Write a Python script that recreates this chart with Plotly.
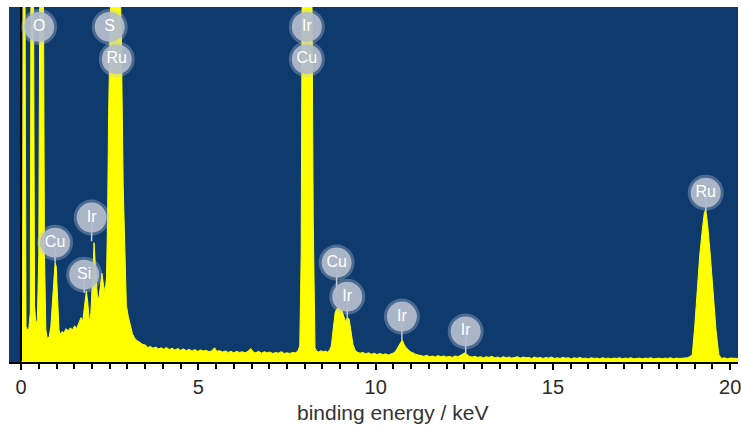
import plotly.graph_objects as go

# ---- spectrum (energy in keV, relative counts; values >100 are clipped peaks)
energy = [0.00, 0.04, 0.06, 0.11, 0.14, 0.18, 0.22, 0.26, 0.28, 0.35, 0.38, 0.42, 0.46, 0.50, 0.53, 0.63,
          0.66, 0.70, 0.74, 0.79, 0.84, 0.89, 0.93, 0.96, 0.99, 1.03, 1.07, 1.11, 1.16, 1.21, 1.27, 1.33,
          1.39, 1.45, 1.51, 1.57, 1.63, 1.69, 1.74, 1.79, 1.84, 1.88, 1.93, 1.97, 2.02, 2.06, 2.10, 2.15,
          2.19, 2.24, 2.28, 2.32, 2.37, 2.41, 2.44, 2.47, 2.51, 2.54, 2.79, 2.83, 2.88, 2.93, 2.97, 3.02,
          3.08, 3.14, 3.20, 3.27, 3.34, 3.42, 3.50, 3.58, 3.65, 3.72, 3.80, 3.88, 3.95, 4.03, 4.10, 4.18,
          4.26, 4.34, 4.42, 4.50, 4.58, 4.66, 4.74, 4.82, 4.90, 4.98, 5.06, 5.14, 5.22, 5.30, 5.38, 5.46,
          5.52, 5.60, 5.68, 5.76, 5.84, 5.92, 6.00, 6.08, 6.16, 6.24, 6.32, 6.40, 6.48, 6.55, 6.62, 6.70,
          6.78, 6.86, 6.94, 7.02, 7.10, 7.18, 7.26, 7.34, 7.42, 7.50, 7.58, 7.66, 7.74, 7.80, 7.86, 7.90,
          7.93, 8.20, 8.24, 8.29, 8.34, 8.40, 8.46, 8.52, 8.58, 8.64, 8.70, 8.75, 8.80, 8.86, 8.92, 8.98,
          9.04, 9.10, 9.15, 9.20, 9.25, 9.30, 9.36, 9.42, 9.48, 9.56, 9.64, 9.72, 9.80, 9.88, 9.96, 10.04,
          10.12, 10.20, 10.28, 10.36, 10.44, 10.52, 10.58, 10.64, 10.70, 10.75, 10.80, 10.86, 10.92, 10.98,
          11.05, 11.12, 11.20, 11.28, 11.36, 11.44, 11.52, 11.60, 11.68, 11.76, 11.84, 11.92, 12.00, 12.08,
          12.16, 12.24, 12.32, 12.40, 12.46, 12.52, 12.58, 12.64, 12.72, 12.80, 12.88, 12.96, 13.04, 13.12,
          13.20, 13.28, 13.36, 13.44, 13.52, 13.60, 13.68, 13.76, 13.84, 13.92, 14.00, 14.08, 14.16, 14.24,
          14.32, 14.40, 14.48, 14.56, 14.64, 14.72, 14.80, 14.88, 14.96, 15.04, 15.12, 15.20, 15.28, 15.36,
          15.44, 15.52, 15.60, 15.68, 15.76, 15.84, 15.92, 16.00, 16.08, 16.16, 16.24, 16.32, 16.40, 16.48,
          16.56, 16.64, 16.72, 16.80, 16.88, 16.96, 17.04, 17.12, 17.20, 17.28, 17.36, 17.44, 17.52, 17.60,
          17.68, 17.76, 17.84, 17.92, 18.00, 18.08, 18.16, 18.24, 18.32, 18.40, 18.48, 18.56, 18.64, 18.72,
          18.80, 18.87, 18.93, 19.00, 19.07, 19.14, 19.21, 19.27, 19.31, 19.36, 19.44, 19.52, 19.60, 19.68,
          19.76, 19.84, 19.92, 20.00, 20.08, 20.16, 20.24]
counts = [0, 0, 110, 110, 10, 9, 9.5, 14, 110, 110, 16, 10.5, 12, 30, 110, 110,
          30, 9, 6.7, 7, 10, 18, 26, 28, 27, 18, 9, 7.8, 8.6, 8.2, 9.4, 8.8,
          9.6, 9.1, 10.2, 9.5, 11, 12.5, 11.5, 15, 20, 17, 11, 14, 27, 33.6, 26, 19,
          17.5, 22, 25, 22, 19.5, 24, 40, 70, 95, 110, 110, 90, 50, 30, 16, 13,
          10, 8, 6.8, 6, 5.6, 5, 4.8, 4.1, 4.4, 3.9, 4.2, 3.7, 4.0, 3.6, 4.1, 3.5,
          3.9, 3.4, 3.8, 3.3, 3.7, 3.2, 3.6, 3.1, 3.5, 3.0, 3.4, 3.1, 3.3, 2.9, 3.2, 4.0,
          3.0, 3.2, 2.8, 3.1, 2.7, 3.0, 2.6, 3.0, 2.7, 2.9, 2.6, 3.0, 3.8, 2.8, 2.6, 3.0,
          2.5, 2.9, 2.6, 2.8, 2.4, 2.7, 2.5, 2.9, 2.4, 2.6, 2.4, 2.7, 2.6, 3.0, 4.5, 30,
          110, 110, 40, 4, 3.0, 2.8, 3.2, 2.9, 3.1, 2.8, 3.3, 4.5, 9, 14, 15.2, 15.5,
          14.8, 13, 11.4, 12.4, 12.2, 9, 5, 3.4, 2.8, 2.5, 2.7, 2.3, 2.6, 2.2, 2.5, 2.1,
          2.4, 2.1, 2.3, 2.0, 2.4, 2.6, 3.3, 4.3, 5.5, 6.2, 5.0, 4.0, 3.5, 2.9,
          2.6, 2.2, 2.0, 1.8, 1.6, 1.9, 1.5, 1.7, 1.4, 1.8, 1.5, 1.7, 1.4, 1.6,
          1.3, 1.7, 1.5, 1.9, 2.3, 2.6, 2.1, 1.6, 1.4, 1.6, 1.3, 1.5, 1.2, 1.5,
          1.3, 1.6, 1.2, 1.4, 1.1, 1.5, 1.2, 1.4, 1.1, 1.3, 1.5, 1.1, 1.4, 1.2,
          1.3, 1.0, 1.4, 1.1, 1.3, 1.0, 1.3, 1.1, 1.4, 1.0, 1.2, 1.0, 1.3, 1.1,
          1.2, 0.9, 1.2, 1.0, 1.3, 1.0, 1.1, 0.9, 1.2, 1.0, 1.1, 0.9, 1.2, 1.0,
          1.1, 0.9, 1.1, 1.0, 1.2, 0.9, 1.1, 1.0, 1.2, 0.9, 1.0, 1.1, 0.9, 1.1,
          1.0, 1.2, 0.9, 1.0, 1.1, 0.9, 1.1, 1.0, 1.2, 0.9, 1.1, 1.0, 1.1, 1.0,
          1.2, 1.6, 2, 10, 21, 30, 37, 42, 43, 39, 30, 20, 9, 2,
          1.0, 1.2, 0.9, 1.1, 1.0, 1.1, 1.0]

# ---- element labels
label_text = ["O", "S", "Ru", "Ir", "Cu", "Ir", "Cu", "Si", "Cu", "Ir", "Ir", "Ir", "Ru"]
label_energy = [0.51, 2.50, 2.70, 8.06, 8.06, 1.99, 0.96, 1.78, 8.90, 9.20, 10.74, 12.54, 19.31]
label_height = [94.4, 94.4, 85.3, 94.4, 85.3, 40.7, 33.6, 24.6, 28.0, 18.4, 12.8, 8.6, 47.7]
label_stem_end = [None, None, 84.0, None, None, 34.0, 28.0, 19.5, 18.4, 11.4, 6.2, 2.5, 42.0]

x_ticks = [0, 5, 10, 15, 20]
x_title = "binding energy / keV"

BG = "#0E3A6D"
YELLOW = "#FFFF00"

fig = go.Figure()

fig.add_trace(go.Scatter(
    x=energy, y=counts, mode="lines", fill="tozeroy",
    line=dict(color=YELLOW, width=1), fillcolor=YELLOW,
    hoverinfo="skip", showlegend=False, cliponaxis=True))

# stems
sx, sy = [], []
for e, h, s in zip(label_energy, label_height, label_stem_end):
    if s is not None:
        sx += [e, e, None]
        sy += [h, s, None]
fig.add_trace(go.Scatter(x=sx, y=sy, mode="lines",
                         line=dict(color="#C3CAD6", width=1.5),
                         hoverinfo="skip", showlegend=False))

# glow
fig.add_trace(go.Scatter(x=label_energy, y=label_height, mode="markers",
                         marker=dict(size=36, color="rgba(190,198,212,0.35)", line=dict(width=0)),
                         hoverinfo="skip", showlegend=False, cliponaxis=False))
# circles + text
fig.add_trace(go.Scatter(x=label_energy, y=label_height, mode="markers+text",
                         text=label_text, textposition="middle center",
                         textfont=dict(family="Liberation Sans, Arial", size=16, color="#FFFFFF"),
                         marker=dict(size=30, color="rgba(178,188,204,0.92)", line=dict(width=0)),
                         hoverinfo="skip", showlegend=False, cliponaxis=False))

fig.add_annotation(text=x_title, xref="paper", yref="paper", x=0.526, y=-0.141,
                   xanchor="center", yanchor="middle", showarrow=False,
                   font=dict(family="Liberation Sans, Arial", size=21, color="#333333"))

fig.update_layout(
    width=741, height=430,
    margin=dict(l=9, r=0, t=7, b=68),
    paper_bgcolor="white", plot_bgcolor=BG,
    xaxis=dict(range=[-0.34, 20.22], tickvals=x_ticks, ticktext=[str(v) for v in x_ticks],
               ticklabeloverflow="allow",
               ticks="outside", ticklen=6, tickwidth=1.5, tickcolor="black",
               minor=dict(dtick=0.5, tick0=0, ticks="outside", ticklen=5, tickwidth=1.5, tickcolor="black"),
               showgrid=False, zeroline=True, zerolinecolor="black", zerolinewidth=1.5,
               showline=True, linecolor="black", linewidth=2,
               tickfont=dict(family="Liberation Sans, Arial", size=20, color="#2A2A2A")),
    yaxis=dict(range=[0, 100], showticklabels=False, showgrid=False, zeroline=False,
               ticks="", showline=False),
)

fig.write_html("out.html")
